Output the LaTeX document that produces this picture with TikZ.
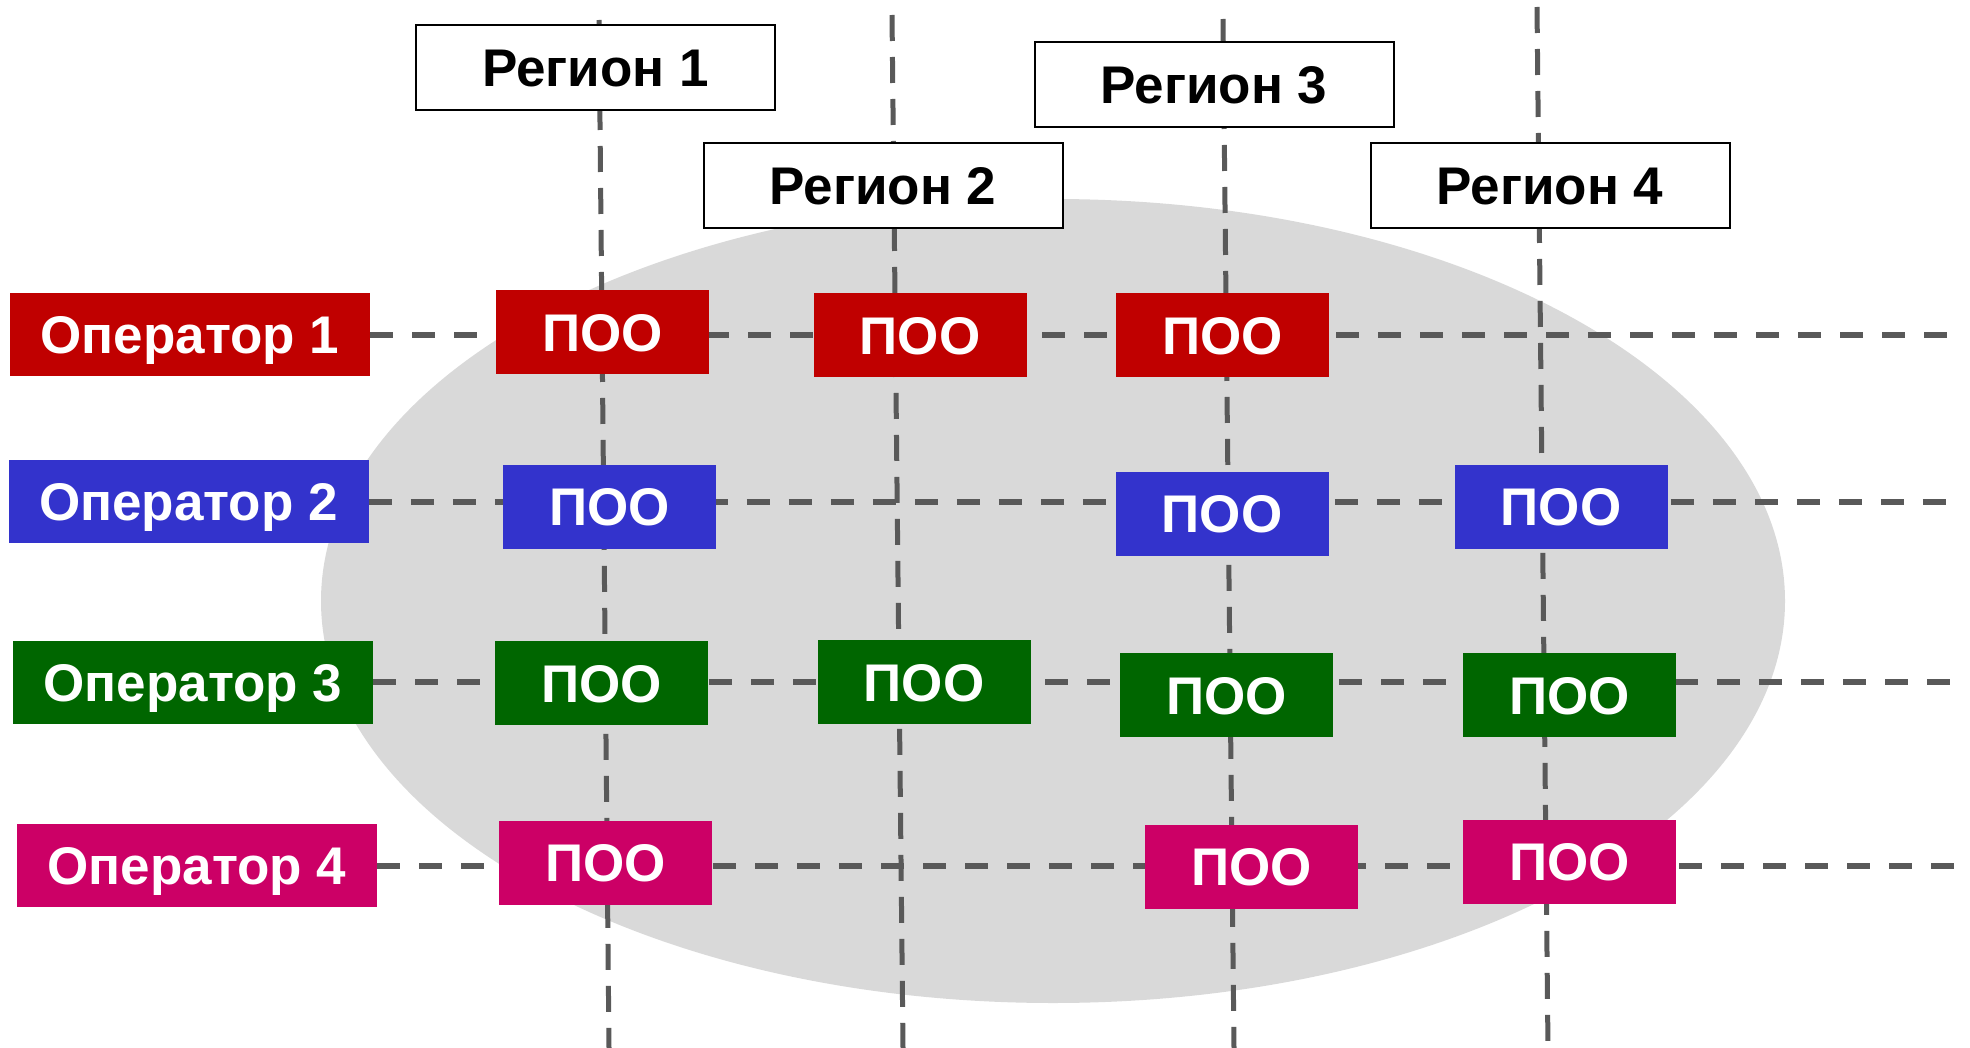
\documentclass[tikz,border=0pt]{standalone}
\usepackage{fontspec}
\setmainfont{Liberation Sans}
\pgfdeclarelayer{ellipselayer}
\pgfdeclarelayer{gridlayer}
\pgfsetlayers{ellipselayer,gridlayer,main}

\definecolor{opred}{HTML}{C00000}
\definecolor{opblue}{HTML}{3333CC}
\definecolor{opgreen}{HTML}{006600}
\definecolor{opmagenta}{HTML}{CC0066}
\definecolor{gridgray}{HTML}{595959}
\definecolor{cloudgray}{HTML}{D9D9D9}

\tikzset{
    boxfont/.style={font=\fontsize{26.5}{30}\selectfont\bfseries, text height=19pt, text depth=0pt},
    regionbox/.style={boxfont, draw=black, line width=1pt, fill=white, minimum width=179.5pt,
        minimum height=42.5pt, inner sep=0pt},
    opbox/.style={boxfont, fill=#1, text=white, minimum width=180pt, minimum height=41.5pt,
        inner sep=0pt},
    poobox/.style={boxfont, fill=#1, text=white, minimum width=106.5pt, minimum height=42pt,
        inner sep=0pt},
    hline/.style={draw=gridgray, line width=3pt, dash pattern=on 11.5pt off 9.5pt},
    vline/.style={draw=gridgray, line width=2.5pt, dash pattern=on 13pt off 8pt}
}

\begin{document}
\begin{tikzpicture}[x=0.5pt,y=-0.5pt]
    \useasboundingbox (0,0) rectangle (1970,1048);

    % Regionen
    \node[regionbox] (reg1) at (595.5,67.5) {Регион 1};
    \node[regionbox] (reg2) at (883,186) {Регион 2};
    \node[regionbox] (reg3) at (1214,84.5) {Регион 3};
    \node[regionbox] (reg4) at (1550,186) {Регион 4};

    % Operatoren
    \node[opbox=opred] (op1) at (190,334.5) {Оператор 1};
    \node[opbox=opblue] (op2) at (188.5,501.5) {Оператор 2};
    \node[opbox=opgreen] (op3) at (193,682) {Оператор 3};
    \node[opbox=opmagenta] (op4) at (197,865.5) {Оператор 4};

    % ПОО, Zeile 1
    \node[poobox=opred] (poo11) at (602.5,332) {ПОО};
    \node[poobox=opred] (poo12) at (920,335) {ПОО};
    \node[poobox=opred] (poo13) at (1222.5,335) {ПОО};
    % Zeile 2
    \node[poobox=opblue] (poo21) at (609.5,506.5) {ПОО};
    \node[poobox=opblue] (poo23) at (1222,513.5) {ПОО};
    \node[poobox=opblue] (poo24) at (1561,506.5) {ПОО};
    % Zeile 3
    \node[poobox=opgreen] (poo31) at (601.5,683) {ПОО};
    \node[poobox=opgreen] (poo32) at (924,682) {ПОО};
    \node[poobox=opgreen] (poo33) at (1226.5,695) {ПОО};
    \node[poobox=opgreen] (poo34) at (1569.5,695) {ПОО};
    % Zeile 4
    \node[poobox=opmagenta] (poo41) at (605.5,862.5) {ПОО};
    \node[poobox=opmagenta] (poo43) at (1251.5,866.5) {ПОО};
    \node[poobox=opmagenta] (poo44) at (1569.5,861.5) {ПОО};

    % Endpunkte der Linien
    \coordinate (rEnd) at (1960,0);
    \coordinate (v1top) at (599,20);    \coordinate (v1bot) at (609,1048);
    \coordinate (v2top) at (892,15);    \coordinate (v2bot) at (903,1048);
    \coordinate (v3top) at (1223,19);   \coordinate (v3bot) at (1234,1048);
    \coordinate (v4top) at (1537,7);    \coordinate (v4bot) at (1548,1048);

    \begin{pgfonlayer}{ellipselayer}
        \fill[cloudgray] (1053,601) ellipse [x radius=732, y radius=402];
    \end{pgfonlayer}

    \begin{pgfonlayer}{gridlayer}
        \foreach \i in {1,...,4} {
            \draw[vline] (v\i top) -- (v\i bot); % Spalten
            \draw[hline] (op\i.east) -- (op\i.east -| rEnd); % Zeilen
        }
    \end{pgfonlayer}
\end{tikzpicture}
\end{document}
